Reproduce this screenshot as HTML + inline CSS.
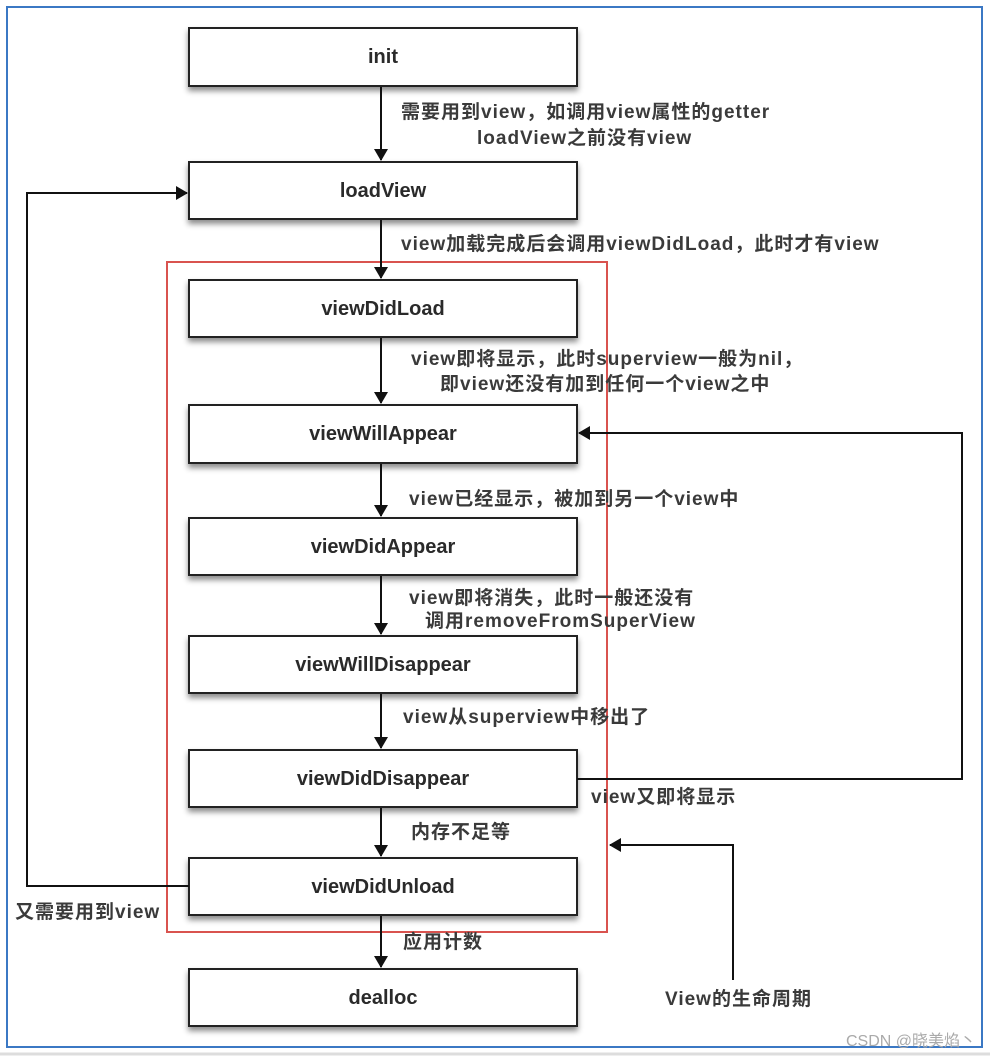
<!DOCTYPE html>
<html><head><meta charset="utf-8"><style>
html,body{margin:0;padding:0;background:#fff;}
svg{display:block}
text{font-family:"Liberation Sans","Noto Sans CJK SC",sans-serif;font-size:19px;font-weight:bold;letter-spacing:1px;fill:#3a3a3a;}
.b{font-size:20px;text-anchor:middle;fill:#2a2a2a;letter-spacing:0}
</style></head><body>
<svg width="990" height="1059" viewBox="0 0 990 1059" xmlns="http://www.w3.org/2000/svg">
<defs>
<marker id="a" markerWidth="12" markerHeight="14" refX="11" refY="7" orient="auto" markerUnits="userSpaceOnUse"><path d="M0,0 L12,7 L0,14 z" fill="#111"/></marker>
<filter id="s" x="-5%" y="-20%" width="110%" height="150%"><feDropShadow dx="0" dy="4" stdDeviation="3" flood-color="#000" flood-opacity="0.45"/></filter>
</defs>
<rect x="7" y="7" width="975" height="1040" fill="#fff" stroke="#3b78c4" stroke-width="2"/>
<line x1="0" y1="1054" x2="990" y2="1054" stroke="#ddd" stroke-width="3"/>
<rect x="167" y="262" width="440" height="670" fill="none" stroke="#d9534f" stroke-width="2"/>
<g fill="#fff" stroke="#222" stroke-width="2" filter="url(#s)">
<rect x="189" y="28" width="388" height="58"/>
<rect x="189" y="162" width="388" height="57"/>
<rect x="189" y="280" width="388" height="57"/>
<rect x="189" y="405" width="388" height="58"/>
<rect x="189" y="518" width="388" height="57"/>
<rect x="189" y="636" width="388" height="57"/>
<rect x="189" y="750" width="388" height="57"/>
<rect x="189" y="858" width="388" height="57"/>
<rect x="189" y="969" width="388" height="57"/>
</g>
<text class="b" x="383" y="63">init</text>
<text class="b" x="383" y="197">loadView</text>
<text class="b" x="383" y="315">viewDidLoad</text>
<text class="b" x="383" y="440">viewWillAppear</text>
<text class="b" x="383" y="553">viewDidAppear</text>
<text class="b" x="383" y="671">viewWillDisappear</text>
<text class="b" x="383" y="785">viewDidDisappear</text>
<text class="b" x="383" y="893">viewDidUnload</text>
<text class="b" x="383" y="1004">dealloc</text>
<g stroke="#111" stroke-width="2" fill="none" marker-end="url(#a)">
<line x1="381" y1="87" x2="381" y2="160"/>
<line x1="381" y1="220" x2="381" y2="278"/>
<line x1="381" y1="338" x2="381" y2="403"/>
<line x1="381" y1="464" x2="381" y2="516"/>
<line x1="381" y1="576" x2="381" y2="634"/>
<line x1="381" y1="694" x2="381" y2="748"/>
<line x1="381" y1="808" x2="381" y2="856"/>
<line x1="381" y1="916" x2="381" y2="967"/>
<polyline points="189,886 27,886 27,193 187,193"/>
<polyline points="577,779 962,779 962,433 579,433"/>
<polyline points="733,980 733,845 610,845"/>
</g>
<text x="401" y="118">需要用到view，如调用view属性的getter</text>
<text x="477" y="144">loadView之前没有view</text>
<text x="401" y="250">view加载完成后会调用viewDidLoad，此时才有view</text>
<text x="411" y="365">view即将显示，此时superview一般为nil，</text>
<text x="440" y="390">即view还没有加到任何一个view之中</text>
<text x="409" y="505">view已经显示，被加到另一个view中</text>
<text x="409" y="604">view即将消失，此时一般还没有</text>
<text x="425" y="627">调用removeFromSuperView</text>
<text x="403" y="723">view从superview中移出了</text>
<text x="591" y="803">view又即将显示</text>
<text x="411" y="838">内存不足等</text>
<text x="15" y="918">又需要用到view</text>
<text x="403" y="948">应用计数</text>
<text x="665" y="1005">View的生命周期</text>
<text x="846" y="1046" style="font-size:16px;fill:#aaa;font-weight:normal;letter-spacing:0">CSDN @晓美焰丶</text>
</svg>
</body></html>
